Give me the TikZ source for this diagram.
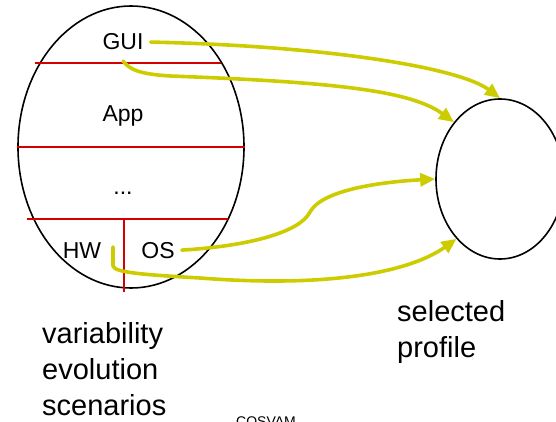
\documentclass[tikz,border=0pt]{standalone}
\usepackage{fontspec}
\setmainfont{Liberation Sans}
\usetikzlibrary{shapes.geometric, arrows.meta}
\definecolor{linkyellow}{RGB}{204,204,0}
\definecolor{layerred}{RGB}{210,0,0}
\tikzset{
	stack_shape/.style={ellipse, draw=black, line width=1.6pt, minimum width=226pt, minimum height=282pt, inner sep=0pt},
	profile_shape/.style={ellipse, draw=black, line width=1.6pt, minimum width=128pt, minimum height=160pt, inner sep=0pt},
	layer_line/.style={draw=layerred, line width=1.6pt},
	layer_label/.style={font=\fontsize{23}{27}\selectfont, anchor=base, inner sep=7pt},
	caption_label/.style={font=\fontsize{29}{36}\selectfont, align=left, anchor=north west, inner sep=0pt},
	link_arrow/.style={draw=linkyellow, line width=3.6pt, line cap=round, line join=round, -{Triangle[length=15pt, width=13pt]}},
	phantom_node/.style={coordinate}
}
\begin{document}
\begin{tikzpicture}[x=1pt, y=-1pt]
	\useasboundingbox (0,0) rectangle (556,422);
	\node[stack_shape] (stack) at (131,147) {};
	\node[profile_shape] (profile) at (500,179) {};
	% layers
	\draw[layer_line] (35,63) -- (221,63);
	\draw[layer_line] (stack.west) -- (stack.east);
	\draw[layer_line] (27,219) -- (228,219);
	\draw[layer_line] (124,219) -- (124,292);
	\node[layer_label] (gui) at (123,50) {GUI};
	\node[layer_label] (app) at (123,122) {App};
	\node[layer_label] (dots) at (123,194) {...};
	\node[layer_label] (hw) at (82,258) {HW};
	\node[layer_label] (os) at (158,258) {OS};
	\node[caption_label] (scenarios) at (42,322) {variability\\evolution\\scenarios};
	\node[caption_label] (selected) at (397,300) {selected\\profile};
	\node[font=\fontsize{14}{16}\selectfont, anchor=base] (cosvam) at (266,426) {COSVAM};
	\node[phantom_node] (gui_hook) at (123,61) {};
	\node[phantom_node] (hw_hook) at (113,247) {};
	% links to the profile
	\draw[link_arrow] (gui.east) .. controls (330,46) and (460,68) .. (profile.north);
	\draw[link_arrow] (gui_hook) .. controls (130,70) and (140,74) .. (170,76)
		.. controls (330,82) and (410,90) .. (profile.129);
	\draw[link_arrow] (os.east) .. controls (250,246) and (300,232) .. (310,212)
		.. controls (322,190) and (380,182) .. (profile.west);
	\draw[link_arrow] (hw_hook) -- (113,266) .. controls (114,273) and (150,275) .. (200,278)
		.. controls (330,288) and (410,272) .. (profile.234);
\end{tikzpicture}
\end{document}
